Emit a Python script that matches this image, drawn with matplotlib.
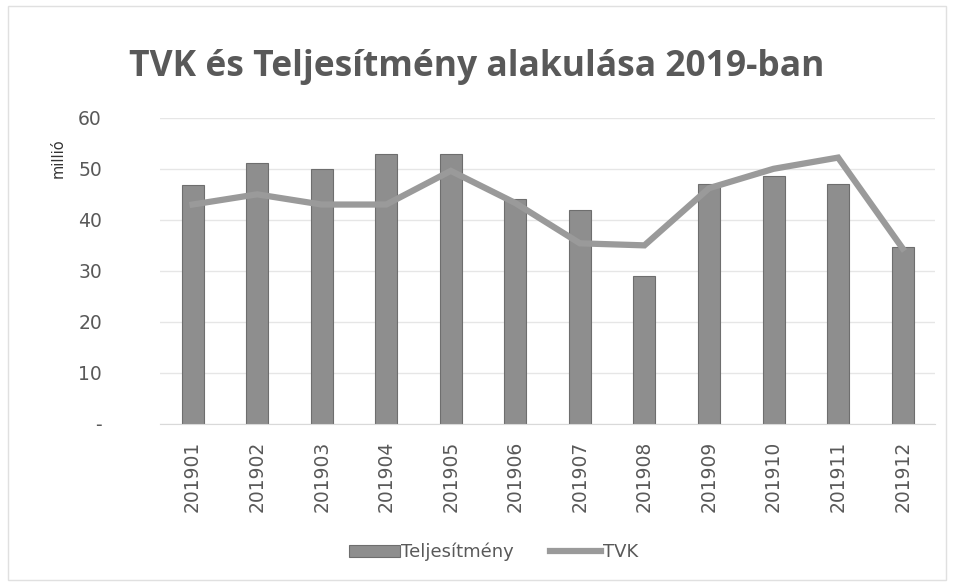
import matplotlib.pyplot as plt
import numpy as np

months = ["201901", "201902", "201903", "201904", "201905", "201906",
          "201907", "201908", "201909", "201910", "201911", "201912"]
teljesitmeny = [46.8, 51.2, 50.0, 53.0, 53.0, 44.0, 42.0, 29.0, 47.0, 48.6, 47.0, 34.6]
tvk = [43.0, 45.0, 43.0, 43.0, 49.6, 43.3, 35.4, 35.0, 46.2, 50.0, 52.2, 34.4]

fig = plt.figure(figsize=(9.54, 5.86), dpi=100)
ax = fig.add_axes([0.168, 0.2765, 0.812, 0.5225])

x = np.arange(len(months))
bars = ax.bar(x, teljesitmeny, width=0.34, color="#8e8e8e", edgecolor="#6e6e6e",
              linewidth=0.8, label="Teljesítmény", zorder=2)
line, = ax.plot(x, tvk, color="#9a9a9a", linewidth=4.5, solid_joinstyle="miter",
                label="TVK", zorder=3)

ax.set_xlim(-0.5, 11.5)
ax.set_ylim(0, 60)
ax.set_yticks([0, 10, 20, 30, 40, 50, 60])
ax.set_yticklabels(["-", "10", "20", "30", "40", "50", "60"])
ax.set_xticks(x)
ax.set_xticklabels(months, rotation=90)
ax.tick_params(axis="both", length=0, colors="#595959", labelsize=13.5)
ax.tick_params(axis="y", pad=42)
ax.tick_params(axis="x", pad=12)
ax.grid(axis="y", color="#e6e6e6", linewidth=1, zorder=0)
for s in ["top", "right", "left"]:
    ax.spines[s].set_visible(False)
ax.spines["bottom"].set_color("#d9d9d9")

fig.text(0.5, 0.885, "TVK és Teljesítmény alakulása 2019-ban", ha="center",
         va="center", fontsize=25.5, fontweight="bold", color="#595959",
         family="Open Sans")
fig.text(0.061, 0.73, "millió", rotation=90, ha="center", va="center",
         fontsize=10.5, color="#333333")

ax.legend([bars, line], ["Teljesítmény", "TVK"], loc="upper center",
          bbox_to_anchor=(0.43, -0.335), ncol=2,
          frameon=False, fontsize=13, labelcolor="#595959",
          handlelength=2.8, columnspacing=2.0, handletextpad=0.1)

fig.patches.append(plt.Rectangle((0.008, 0.01), 0.984, 0.98, transform=fig.transFigure,
                                 fill=False, edgecolor="#e0e0e0", linewidth=1))
fig.savefig("out.png", dpi=100)
